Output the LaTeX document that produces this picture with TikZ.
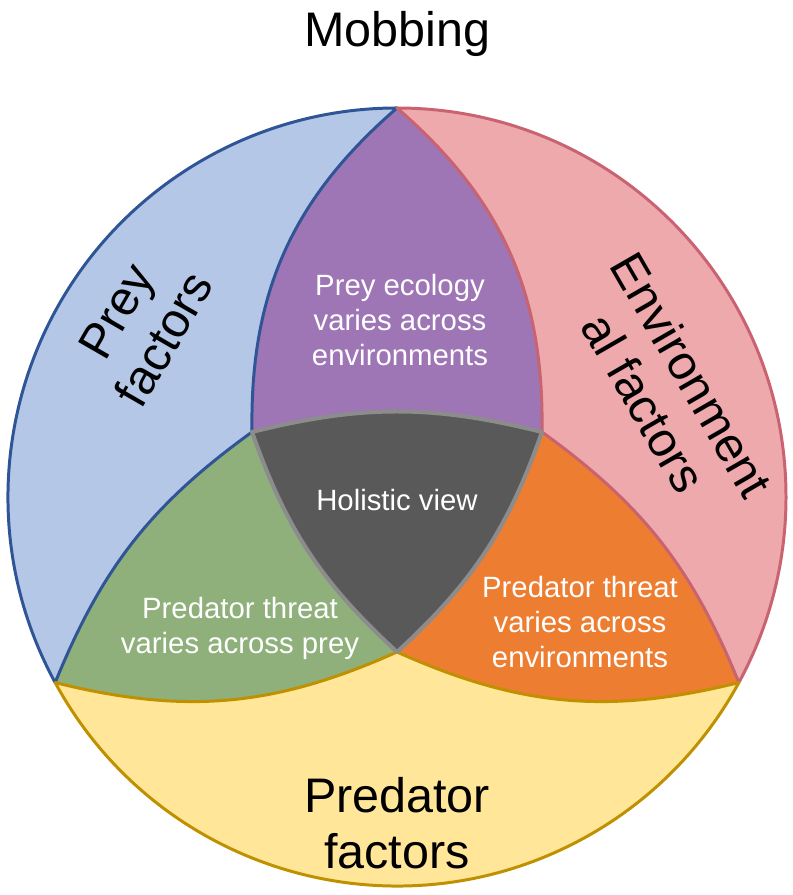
\documentclass[tikz,border=0pt]{standalone}
\usepackage{fontspec}
\setmainfont{Liberation Sans}
\usepackage{tikz}
\usetikzlibrary{positioning, calc}
\definecolor{preyblue}{HTML}{B4C7E7}
\definecolor{preyline}{HTML}{2F5597}
\definecolor{envpink}{HTML}{EDA9AB}
\definecolor{envline}{HTML}{C96372}
\definecolor{predyellow}{HTML}{FFE699}
\definecolor{predline}{HTML}{BF9000}
\definecolor{ecopurple}{HTML}{9E75B5}
\definecolor{threatgreen}{HTML}{8FB07B}
\definecolor{threatorange}{HTML}{ED7D31}
\definecolor{holgray}{HTML}{595959}
\definecolor{holline}{HTML}{8C8C8C}
\tikzstyle{big}=[%
      text=black, align=center, inner sep=0pt,
      font=\fontsize{27.6}{31.5}\selectfont
]
\tikzstyle{small}=[%
      text=white, align=center, inner sep=0pt,
      font=\fontsize{16.7}{20}\selectfont
]
\tikzstyle{rim}=[line width=1.7pt, line join=round]

\begin{document}
\begin{tikzpicture}[x=0.02cm, y=0.02cm]
    \useasboundingbox (0,0) rectangle (792,895);
    \coordinate (O)  at (397,398);
    \coordinate (T)  at ($(O)+(90:389)$);
    \coordinate (L)  at ($(O)+(208.5:389)$);
    \coordinate (R)  at ($(O)+(331.5:389)$);
    \coordinate (P1) at (252,463);
    \coordinate (P2) at (542,463);
    \coordinate (P3) at (397,243);

    % single factors
    \fill[preyblue] (L) arc[start angle=208.5, end angle=90, radius=389]
        to[bend right=25] (P1) to[bend right=16] (L) -- cycle;
    \fill[envpink] (T) arc[start angle=90, end angle=-28.5, radius=389]
        to[bend right=16] (P2) to[bend right=25] (T) -- cycle;
    \fill[predyellow] (L) arc[start angle=208.5, end angle=331.5, radius=389]
        to[bend left=19] (P3) to[bend left=19] (L) -- cycle;

    % overlaps
    \fill[ecopurple] (T) to[bend right=25] (P1) to[bend left=14] (P2) to[bend right=25] (T) -- cycle;
    \fill[threatgreen] (P1) to[bend right=16] (L) to[bend right=19] (P3) to[bend left=14] (P1) -- cycle;
    \fill[threatorange] (P2) to[bend left=14] (P3) to[bend right=19] (R) to[bend right=16] (P2) -- cycle;
    \fill[holgray] (P1) to[bend left=14] (P2) to[bend left=14] (P3) to[bend left=14] (P1) -- cycle;

    % outlines
    \draw[rim, preyline] (L) arc[start angle=208.5, end angle=90, radius=389]
        to[bend right=25] (P1) to[bend right=16] (L) -- cycle;
    \draw[rim, envline] (T) arc[start angle=90, end angle=-28.5, radius=389]
        to[bend right=16] (P2) to[bend right=25] (T) -- cycle;
    \draw[rim, predline] (L) arc[start angle=208.5, end angle=331.5, radius=389]
        to[bend left=19] (P3) to[bend left=19] (L) -- cycle;
    \draw[rim, holline, line width=2.3pt] (P1) to[bend left=14] (P2) to[bend left=14] (P3)
        to[bend left=14] (P1) -- cycle;

    \node[big, anchor=base] (mobbing) at (397,848) {Mobbing};
    \node[big, rotate=60]   (prey)    at (140,570) {Prey\\factors};
    \node[big, rotate=-60]  (env)     at (668,506) {Environment\\al factors};
    \node[big]              (pred)    at (397,72)  {Predator\\factors};

    \node[small] (ecology)    at (400,575) {Prey ecology\\varies across\\environments};
    \node[small] (holistic)   at (397,395) {Holistic view};
    \node[small] (threatprey) at (240,267) {Predator threat\\varies across prey};
    \node[small] (threatenv)  at (580,273) {Predator threat\\varies across\\environments};
\end{tikzpicture}
\end{document}
